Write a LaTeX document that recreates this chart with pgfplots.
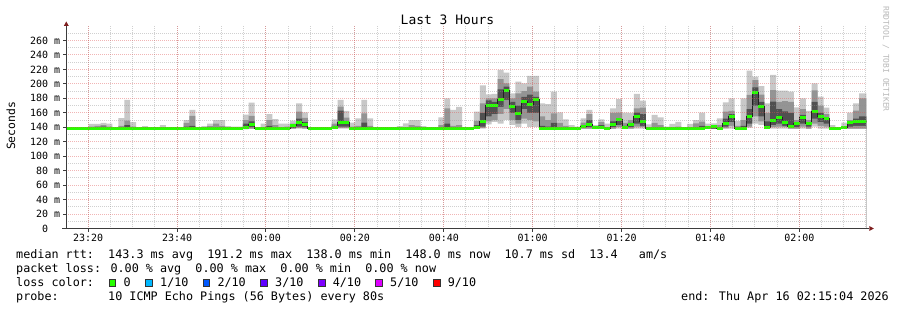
\documentclass[border=0pt]{standalone}
\usepackage{fontspec}
\setmainfont{DejaVu Sans Mono}
\usepackage{pgfplots}
\pgfplotsset{compat=1.18}
\usepackage{pgfplotstable}

\definecolor{smA}{RGB}{200,200,200}
\definecolor{smB}{RGB}{148,148,148}
\definecolor{smC}{RGB}{80,80,80}
\definecolor{medg}{RGB}{38,255,0}
\definecolor{gridc}{RGB}{143,143,143}
\definecolor{mgridc}{RGB}{222,81,81}
\definecolor{axisc}{RGB}{60,60,60}
\definecolor{arrowc}{RGB}{127,31,31}
\definecolor{wmark}{RGB}{185,185,185}
\definecolor{lc1}{HTML}{26FF00}
\definecolor{lc2}{HTML}{00B8FF}
\definecolor{lc3}{HTML}{0059FF}
\definecolor{lc4}{HTML}{5E00FF}
\definecolor{lc5}{HTML}{7E00FF}
\definecolor{lc6}{HTML}{DD00FF}
\definecolor{lc7}{HTML}{FF0000}

% c = 80 s step index; values in ms
\pgfplotstableread{
c mn lo dlo med dhi hi mx
0 137.5 137.5 138 138.5 139 139.5 140
1 137.5 137.5 138 138.5 139 139.5 140
2 137.5 137.5 138 138.5 139 139.5 140
3 137.5 137.5 138 138.5 139 139.5 140
4 137.5 137.5 138 138.5 139 141 144.5
5 137.5 137.5 138 138.5 140 142 144.5
6 137.5 137.5 138 138.5 141 143 146
7 137.5 137.5 138 138.5 139 141 145
8 137.5 137.5 138 138.5 139 139.5 140
9 137.5 137.5 138 138.5 139 142 152.5
10 137.5 137.5 138 138.5 143 149 177.7
11 137.5 137.5 138 138.5 139 141 147
12 137.5 137.5 138 138.5 139 139.5 140
13 137.5 137.5 138 138.5 139 139.5 141.7
14 137.5 137.5 138 138.5 139 139.5 140
15 137.5 137.5 138 138.5 139 139.5 140
16 137.5 137.5 138 138.5 139 140 143
17 137.5 137.5 138 138.5 139 139.5 140
18 137.5 137.5 138 138.5 139 139.5 140
19 137.5 137.5 138 138.5 139 139.5 140
20 137.5 137.5 138 138.5 141 146 150
21 137.5 137.5 138 138.5 142 155.6 164
22 137.5 137.5 138 138.5 139 139.5 140
23 137.5 137.5 138 138.5 139 139.5 141.7
24 137.5 137.5 138 138.5 139 141.5 145
25 137.5 137.5 138 138.5 140 145 150
26 137.5 137.5 138 138.5 139 142 150
27 137.5 137.5 138 138.5 139 139.5 141.7
28 137.5 137.5 138 138.5 139 139.5 141
29 137.5 137.5 138 138.5 139 139.5 141
30 137 137.5 138 140.3 145 150 157.4
31 137.5 138 140 144.2 148 155.6 174
32 137.5 137.5 138 138.5 139 139.5 140
33 137.5 137.5 138 138.5 139 140 145
34 137.5 137.5 138 138.5 142 150 158.3
35 137.5 137.5 138 138.5 139 143 151.4
36 137.5 137.5 138 138.5 139 140 145
37 137.5 137.5 138 138.5 139 141 145
38 137.5 138 139 142.2 143 145 149
39 138 139 141 146.3 152 161.5 173
40 137.5 138.5 140 143.4 147 153 160.7
41 137.5 137.5 138 138.5 139 139.5 140
42 137.5 137.5 138 138.5 139 139.5 140
43 137.5 137.5 138 138.5 139 139.5 140
44 137.5 137.5 138 138.5 139 139.5 140
45 137.5 137.5 138 140 142 145 151
46 138 139 141 145.9 163 168.5 177.7
47 138 139 141 145.9 148 153.2 162.5
48 137.5 137.5 138 138.5 139 141 146.3
49 137.5 137.5 138 138.5 139 142 152.3
50 137.5 137.5 138 138.5 146.3 159.3 177.7
51 137.5 137.5 138 138.5 139 142 152.3
52 137.5 137.5 138 138.5 139 139.5 140
53 137.5 137.5 138 138.5 139 139.5 140
54 137.5 137.5 138 138.5 139 139.5 140
55 137.5 137.5 138 138.5 139 139.5 140
56 137.5 137.5 138 138.5 139 139.5 141.7
57 137.5 137.5 138 138.5 139 140 145.4
58 137.5 137.5 138 138.5 139 143 150
59 137.5 137.5 138 138.5 139 142 150
60 137.5 137.5 138 138.5 139 139.5 141.7
61 137.5 137.5 138 138.5 139 139.5 140
62 137.5 137.5 138 138.5 139 139.5 140
63 137.5 137.5 138 138.5 139 143 153.8
64 137.5 137.5 137.5 138 145 166.2 180
65 137.5 137.5 138 138.5 139 142 163.9
66 137.5 137.5 138 138.5 139 143 168
67 137 137 137.5 138 138.5 139 139.5
68 137 137 137.5 138 138.5 139 139.5
69 137.5 137.5 138 139.4 143 148.7 161.5
70 138 139 141 147.8 160 173 198
71 144 148 155 169.4 177 180 185.5
72 147 150 158 169.4 175 180 186
73 145 158 168 178.8 192.5 206.7 219.2
74 150 165 178 191.2 196 200.8 215.5
75 143 150 160 169 175 180 187
76 140 145 150 158.6 170 187 203
77 145 152 165 175.9 182 190 200.8
78 140 150 160 171.2 185 196 210.9
79 140 148 160 178.8 182 189.2 210.9
80 137.5 137.5 138 138.5 142 155 173.1
81 137.5 137.5 138 138.5 141 150 172
82 137.5 137.5 138 138.5 146 159.3 189.2
83 137.5 137.5 138 138.5 139 146 160.7
84 137.5 137.5 138 138.5 139 142 151
85 137.5 137.5 138 138.5 139 140 143
86 137.5 137.5 138 138.5 139 139.5 141
87 137.5 138 139 141.3 143 146.3 152.3
88 137.5 138 140 143.6 150 158 163.9
89 137.5 137.5 138 140.1 140.5 141 143
90 137.5 137.5 138 140 143 147 151
91 137 137 137.5 138 138.5 140 145
92 137.5 138 140 143.6 148 160 166.2
93 138 140 143 150.5 152 160.3 179
94 137.5 137.5 138 140 142 146 160.3
95 137.5 138 140 143.6 146 150 160
96 138 141 145 154.6 160.3 166.2 186
97 138 140 142 147.7 158 167 176.8
98 137.5 137.5 138 138.5 139 140 144
99 137.5 137.5 138 138.5 139 146 157
100 137.5 137.5 138 138.5 139 143 153.8
101 137.5 137.5 138 138.5 139 139.5 141
102 137.5 137.5 138 138.5 139 140 144.5
103 137.5 137.5 138 138.5 139 141 147.3
104 137.5 137.5 138 138.5 139 139.5 140
105 137.5 137.5 138 138.5 139 140 144.5
106 137.5 137.5 138 138.5 139 145.4 150
107 137.5 137.5 138 138.5 142 147.8 160.3
108 137.5 137.5 138 139 139.5 140 145
109 137.5 137.5 138 140.9 141.5 142 145.4
110 137.5 137.5 138 138.5 139 143 152.3
111 137.5 139 141 145.5 152 161.5 174.5
112 138 142 147 155.1 158 162.5 180
113 137.5 137.5 138 138.5 139 142 148.7
114 137.5 137.5 138 138.5 142 150 180
115 139 141 145 155.1 165 184.6 218.2
116 145 155 170 187.4 195 205 210
117 143 148 155 169 175 185 197
118 137.5 137.5 138 140.1 148 160 173
119 138 140 143 149.1 175.4 191.5 212.3
120 138 141 145 152.8 165 175 190.6
121 138 140 142 147 162 176 190.6
122 137.5 138 139 141.3 160 175 189.2
123 137.5 138 140 144.5 146 150 167.6
124 138 141 145 152.8 157 165 180
125 137.5 138 141 145.4 147 150 162.5
126 141 145 152 162 175 191 200.8
127 138 142 147 155.1 160 170 182.3
128 138 141 145 151.6 153 158 167
129 137.5 137.5 138 138.5 139 140 143
130 137.5 137.5 138 138.5 139 139.5 140
131 137.5 137.5 138 140 140.5 141 146.3
132 137.5 138 141 145.9 147 150 160.3
133 137.5 138 142 148.2 152 163 173.1
134 137.5 138 142 148.2 155 180 187
135 137.5 138 142 148.2 155 180 187
136 137.5 138 142 148.2 155 180 187
}\smoke

\begin{document}
\begin{tikzpicture}
\path[use as bounding box] (0,0) rectangle (897bp,310bp);
\fill[white] (0,0) rectangle (897bp,310bp);
\begin{axis}[
  name=ax, at={(66.3bp,81.5bp)}, anchor=south west,
  scale only axis, width=800bp, height=202.5bp,
  xmin=-44.93, xmax=135.07, ymin=0, ymax=280,
  axis on top, no markers,
  axis x line*=bottom, axis y line*=left,
  axis line style={-, draw=axisc, line width=1bp},
  xtick={-40,-20,...,120},
  xticklabels={23:20,23:40,00:00,00:20,00:40,01:00,01:20,01:40,02:00},
  minor xtick={-40,-35,...,135},
  ytick={0,20,...,260},
  yticklabels={0\hphantom{0m},20 m,40 m,60 m,80 m,100 m,120 m,140 m,160 m,180 m,200 m,220 m,240 m,260 m},
  minor ytick={10,30,...,270},
  grid=both,
  major grid style={draw=mgridc, opacity=0.42, line width=1bp, dash pattern=on 1bp off 1bp},
  minor grid style={draw=gridc, opacity=0.42, line width=1bp, dash pattern=on 1bp off 1bp},
  tick align=outside, major tick length=3bp, minor tick length=0bp,
  tick style={draw=axisc, line width=1bp},
  ticklabel style={font=\fontsize{10}{12}\selectfont, inner sep=0pt},
  xticklabel style={anchor=north, yshift=-2.5bp},
  yticklabel style={anchor=east, xshift=-3bp},
]
\addplot[const plot, fill=smA, draw=none] table[x expr=\thisrow{c}*1.333333-45.22, y=mx] {\smoke} \closedcycle;
\addplot[const plot, fill=smB, draw=none] table[x expr=\thisrow{c}*1.333333-45.22, y=hi] {\smoke} \closedcycle;
\addplot[const plot, fill=smC, draw=none] table[x expr=\thisrow{c}*1.333333-45.22, y=dhi] {\smoke} \closedcycle;
\addplot[const plot, fill=smB, draw=none] table[x expr=\thisrow{c}*1.333333-45.22, y=dlo] {\smoke} \closedcycle;
\addplot[const plot, fill=smA, draw=none] table[x expr=\thisrow{c}*1.333333-45.22, y=lo] {\smoke} \closedcycle;
\addplot[const plot, fill=white, draw=none] table[x expr=\thisrow{c}*1.333333-45.22, y=mn] {\smoke} \closedcycle;
\addplot[const plot, draw=black!87, line width=1bp] table[x expr=\thisrow{c}*1.333333-45.22, y=med] {\smoke};
\addplot[jump mark left, draw=medg, line width=3bp] table[x expr=\thisrow{c}*1.333333-45.22, y=med] {\smoke};
\end{axis}
% axis extensions and arrows
\draw[axisc, line width=1bp] (ax.south east) -- ++(3bp,0);
\draw[axisc, line width=1bp] (ax.south west) -- ++(-4bp,0);
\fill[arrowc] (ax.south east) ++(3bp,2.5bp) -- ++(4.5bp,-2.5bp) -- ++(-4.5bp,-2.5bp) -- cycle;
\fill[arrowc] (ax.north west) ++(-2.5bp,0bp) -- ++(2.5bp,4.5bp) -- ++(2.5bp,-4.5bp) -- cycle;
% titles
\node[font=\fontsize{13}{15}\selectfont] at (447.5bp,290bp) {Last 3 Hours};
\node[rotate=90, font=\fontsize{11.4}{13}\selectfont] at (11bp,184bp) {Seconds};
\node[rotate=-90, text=wmark, font=\fontsize{8}{9}\selectfont] at (886bp,251bp) {RRDTOOL / TOBI OETIKER};
% legend text
\begin{scope}[every node/.style={font=\fontsize{11.8}{14}\selectfont, inner sep=0pt}]
\node[anchor=base west] at (16bp,51.7bp) {median rtt:~~143.3 ms avg~~191.2 ms max~~138.0 ms min~~148.0 ms now~~10.7 ms sd~~13.4~~~am/s};
\node[anchor=base west] at (16bp,37.7bp) {packet loss: 0.00 \% avg~~0.00 \% max~~0.00 \% min~~0.00 \% now};
\node[anchor=base west] at (16bp,23.3bp) {loss color:};
\node[anchor=base west] at (16bp,9.3bp) {probe:~~~~~~~10 ICMP Echo Pings (56 Bytes) every 80s};
\node[anchor=base east] at (889bp,9.3bp) {end: Thu Apr 16 02:15:04 2026};
\foreach \bx/\col/\lab in {109/lc1/0, 145.7/lc2/1\slash 10, 203/lc3/2\slash 10, 260.7/lc4/3\slash 10, 318.3/lc5/4\slash 10, 375.7/lc6/5\slash 10, 433.3/lc7/9\slash 10}{
  \filldraw[fill=\col, draw=black!80, line width=0.6bp] (\bx bp,24bp) rectangle ++(6.7bp,6.7bp);
  \node[anchor=base west] at (\bx bp+14.3bp,23.3bp) {\lab};
}
\end{scope}
\end{tikzpicture}
\end{document}
